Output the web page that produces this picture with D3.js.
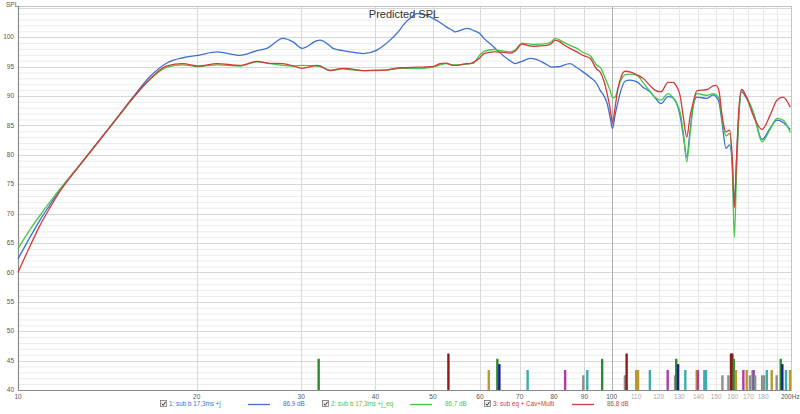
<!DOCTYPE html>
<html><head><meta charset="utf-8">
<script src="https://cdn.jsdelivr.net/npm/d3@7"></script>
<style>body{margin:0;background:#fff}svg{display:block}text{font-family:"Liberation Sans",Arial,sans-serif}</style>
</head><body><svg id="c" width="800" height="414"></svg>
<script>
// ---- data ----
const freqs = [10.00,10.48,10.89,11.32,11.77,12.72,13.75,14.85,15.62,16.69,17.82,18.96,20.10,21.64,23.66,25.27,26.27,27.95,29.06,30.09,31.90,32.27,33.55,33.94,35.28,36.25,38.13,40.25,41.20,42.34,44.01,44.52,45.75,47.00,48.11,48.86,50.01,51.39,52.60,54.05,54.47,57.06,57.73,58.63,59.32,60.02,60.95,63.37,64.11,67.43,68.75,70.64,72.87,73.72,74.88,77.84,79.36,80.29,81.86,82.82,85.10,87.45,89.50,91.97,94.50,95.61,97.10,98.23,99.38,100.35,101.33,102.51,103.71,105.33,107.40,110.35,112.95,116.06,118.33,121.12,124.46,126.90,128.38,130.39,132.18,133.83,135.55,137.30,139.28,144.80,148.21,149.94,151.70,153.47,155.88,158.01,159.55,160.98,162.36,163.63,165.54,168.78,173.42,179.24,184.89,189.98,194.46,200.0];
const splSubB = [62.3,66.0,68.9,71.5,74.0,78.3,82.6,86.9,89.8,93.3,95.6,96.5,96.9,97.5,96.9,97.7,98.1,99.8,99.2,98.1,99.4,99.5,98.5,98.1,97.7,97.5,97.2,97.8,98.5,99.5,101.3,102.0,103.2,104.0,103.9,103.7,103.2,102.5,101.8,101.1,100.9,101.5,101.4,101.1,100.9,100.6,99.8,98.3,97.8,96.0,95.5,95.9,96.4,96.35,96.2,95.3,94.9,94.95,95.0,95.2,95.5,94.8,94.1,93.2,92.0,91.0,90.0,88.8,86.5,84.45,86.7,89.0,91.0,92.5,92.7,92.4,91.5,90.7,89.7,88.7,89.9,89.7,89.0,86.7,83.0,79.6,84.0,88.5,89.8,89.6,90.2,89.9,88.9,85.5,81.1,81.7,79.0,72.0,79.0,86.0,90.7,89.6,87.0,82.6,84.5,85.9,85.5,84.3];
const splSubBEq = [64.0,67.3,69.7,72.0,74.2,78.3,82.6,86.8,89.6,92.8,94.9,95.3,95.0,95.3,95.1,95.8,95.6,95.2,95.1,95.2,95.1,95.0,94.4,94.4,94.6,94.5,94.3,94.3,94.4,94.5,94.7,94.7,94.7,94.7,94.7,94.8,94.9,95.3,95.5,95.3,95.3,95.4,95.5,95.6,96.3,97.0,97.6,97.9,97.8,97.5,97.8,99.0,98.8,98.75,98.8,98.9,99.3,99.8,99.5,99.2,98.6,98.1,97.4,96.9,95.2,94.9,93.5,92.3,91.0,89.7,89.8,91.3,92.7,93.6,93.7,93.5,92.3,90.8,89.8,89.3,90.4,89.7,88.9,87.3,83.5,78.8,83.5,88.5,90.4,90.1,90.4,90.2,89.6,86.0,83.2,83.6,79.0,66.0,77.0,85.5,91.1,89.8,87.2,82.2,84.3,86.2,85.9,83.8];
const splSubEqCav = [60.0,64.5,68.0,71.0,73.8,78.3,82.6,86.9,89.7,92.9,95.1,95.5,95.1,95.5,95.2,95.9,95.6,95.5,95.1,94.7,95.2,95.1,94.3,94.4,94.7,94.6,94.3,94.4,94.4,94.5,94.8,94.8,94.85,94.9,94.9,94.95,95.0,95.5,95.6,95.2,95.2,95.5,95.5,95.8,96.1,96.5,97.2,97.5,97.5,97.3,97.6,98.8,98.5,98.45,98.5,98.6,99.0,99.5,99.2,98.8,98.1,97.5,96.9,96.4,94.5,94.1,92.5,90.5,88.0,85.4,88.0,91.3,93.2,94.2,94.1,93.6,93.0,91.8,91.0,90.7,92.3,92.3,91.8,90.1,86.2,83.0,86.5,89.0,90.9,91.1,91.7,91.8,90.8,86.7,83.9,84.2,80.0,71.0,79.5,87.0,91.1,89.8,86.5,84.3,86.7,89.3,89.8,88.1];

const seriesNames = ["1: sub b 17,3ms +j","2: sub b 17,3ms +j_eq","3: sub eq + Cav+Multi"];
const seriesLevels = ["86,9 dB","86,7 dB","86,8 dB"];

const xTicksMajor = [10,20,30,40,50,60,70,80,90,100];
const xTicksMinor = [110,120,130,140,150,160,170,180];
const xTickLabelsMajor = ["10","20","30","40","50","60","70","80","90","100"];
const xTickLabelsMinor = ["110","120","130","140","150","160","170","180"];
const yTicks = [40,45,50,55,60,65,70,75,80,85,90,95,100];

const barFreqs  = [32.1,53.1,62.1,64.2,64.7,72.2,83.5,89.6,91.0,96.4,105.3,106.0,110.0,110.8,116.0,124.3,127.9,128.5,129.4,133.1,139.1,139.8,143.3,144.2,153.7,157.3,158.9,159.7,160.6,162.0,166.7,168.9,171.1,172.8,173.5,174.5,179.3,180.7,182.6,186.1,189.7,192.7,193.9,196.7,199.8];
const barKinds  = ["g","r","o","g","n","t","m","k","t","g","k","r","o","o","t","m","k","g","n","t","o","m","t","t","k","k","r","r","g","o","m","o","k","t","m","k","k","k","t","o","k","g","n","t","o"];
const barLevels = [45.3,46.2,43.4,45.3,44.4,43.4,43.4,42.5,43.4,45.3,42.5,46.2,43.4,43.4,43.4,43.4,42.5,45.3,44.4,43.4,43.4,43.4,43.4,43.4,42.5,42.5,46.2,46.2,45.3,43.4,43.4,43.4,42.5,43.4,43.4,42.5,42.5,42.5,43.4,43.4,42.5,45.3,44.4,43.4,43.4];

// ---- drawing ----
const svg = d3.select("#c");
const L = 18, R = 790.3, T = 6, B = 390;
const x = d3.scaleLog().domain([10,200]).range([L,R]);
const y = d3.scaleLinear().domain([40,105.3]).range([B,T]);
const barColor = d3.scaleOrdinal().domain(["g","r","o","n","t","m","k"])
  .range(["#2f8a2f","#8e1b1b","#b89a2c","#1e1e96","#3aaeae","#b23aa6","#8e8e8e"]);
const lineColors = ["#3d6fd6","#43c843","#d43a3a"];

const g = svg.append("g");
// horizontal grid
const minorY = d3.range(41,106).filter(v => v % 5 !== 0);
g.selectAll("line.hmin").data(minorY).join("line")
  .attr("x1",L).attr("x2",791).attr("y1",d=>y(d)+0.5).attr("y2",d=>y(d)+0.5)
  .attr("stroke","#ececec").attr("stroke-width",1);
g.selectAll("line.hmaj").data(yTicks.concat([105])).join("line")
  .attr("x1",L).attr("x2",791).attr("y1",d=>Math.round(y(d))+0.5).attr("y2",d=>Math.round(y(d))+0.5)
  .attr("stroke","#d6d6d6").attr("stroke-width",1);
// vertical grid
g.selectAll("line.vmin").data(xTicksMinor.concat([190])).join("line")
  .attr("y1",T).attr("y2",B).attr("x1",d=>Math.round(x(d))+0.5).attr("x2",d=>Math.round(x(d))+0.5)
  .attr("stroke","#e6e6e6");
g.selectAll("line.vmaj").data(xTicksMajor).join("line")
  .attr("y1",T).attr("y2",B).attr("x1",d=>Math.round(x(d))+0.5).attr("x2",d=>Math.round(x(d))+0.5)
  .attr("stroke",d=>d===100?"#b0b0b0":"#d8d8d8");
// frame
svg.append("line").attr("x1",L).attr("x2",791.5).attr("y1",T+0.5).attr("y2",T+0.5).attr("stroke","#c4c4c4");
svg.append("line").attr("x1",791.5).attr("x2",791.5).attr("y1",T).attr("y2",B).attr("stroke","#c4c4c4");

// bars
const bw = 2.4;
svg.append("g").selectAll("rect").data(barFreqs.map((f,i)=>({f,k:barKinds[i],v:barLevels[i]}))).join("rect")
  .attr("x",d=>x(d.f)-bw/2).attr("width",bw)
  .attr("y",d=>y(d.v)).attr("height",d=>y(40)-y(d.v))
  .attr("fill",d=>barColor(d.k));

// axes lines
svg.append("line").attr("x1",L+0.5).attr("x2",L+0.5).attr("y1",T).attr("y2",B+1).attr("stroke","#8a8a8a").attr("stroke-width",1.2);
svg.append("line").attr("x1",L).attr("x2",791.5).attr("y1",B+0.5).attr("y2",B+0.5).attr("stroke","#8a8a8a").attr("stroke-width",1.2);

// curves
const line = d3.line().x(d=>x(d[0])).y(d=>y(d[1])).curve(d3.curveMonotoneX);
[splSubB, splSubBEq, splSubEqCav].forEach((s,i)=>{
  svg.append("path").datum(freqs.map((f,j)=>[f,s[j]]))
    .attr("d",line).attr("fill","none").attr("stroke",lineColors[i]).attr("stroke-width",1.3)
    .attr("stroke-linejoin","round");
});

// y labels
svg.append("g").selectAll("text").data(yTicks).join("text")
  .attr("x",14).attr("y",d=>y(d)+2.3).attr("text-anchor","end")
  .attr("font-size",6.5).attr("fill","#555").text(d=>d);
svg.append("text").attr("x",6).attr("y",7).attr("font-size",6.5).attr("fill","#555").text("SPL");
// x labels
svg.append("g").selectAll("text").data(xTicksMajor).join("text")
  .attr("x",(d,i)=>x(d)).attr("y",399).attr("text-anchor","middle")
  .attr("font-size",6.5).attr("fill","#555").text((d,i)=>xTickLabelsMajor[i]);
svg.append("g").selectAll("text").data(xTicksMinor).join("text")
  .attr("x",d=>x(d)).attr("y",399).attr("text-anchor","middle")
  .attr("font-size",6.5).attr("fill","#a8a8a8").text((d,i)=>xTickLabelsMinor[i]);
svg.append("text").attr("x",x(200)).attr("y",399).attr("text-anchor","middle")
  .attr("font-size",6.5).attr("fill","#555").text("200Hz");

// title
svg.append("text").attr("x",404).attr("y",17.5).attr("text-anchor","middle")
  .attr("font-size",11).attr("fill","#333").text("Predicted SPL");

// legend
const legX = [160,322,484];
const leg = svg.append("g");
seriesNames.forEach((n,i)=>{
  const gx = legX[i], gy = 404;
  const gi = leg.append("g");
  gi.append("rect").attr("x",gx+0.5).attr("y",gy-3.5).attr("width",6).attr("height",6)
    .attr("fill","#f0f0f0").attr("stroke","#777").attr("stroke-width",0.8);
  gi.append("path").attr("d",`M${gx+1.8},${gy-0.3} L${gx+3.2},${gy+1.3} L${gx+5.6},${gy-2.2}`)
    .attr("fill","none").attr("stroke","#333").attr("stroke-width",1);
  gi.append("text").attr("x",gx+9).attr("y",gy+2.2).attr("font-size",6.3)
    .attr("fill",lineColors[i]).text(n);
  gi.append("line").attr("x1",gx+88).attr("x2",gx+110).attr("y1",gy+0.5).attr("y2",gy+0.5)
    .attr("stroke",lineColors[i]).attr("stroke-width",1.3);
  gi.append("text").attr("x",gx+123).attr("y",gy+2.2).attr("font-size",6.3)
    .attr("fill",lineColors[i]).text(seriesLevels[i]);
});
</script></body></html>
